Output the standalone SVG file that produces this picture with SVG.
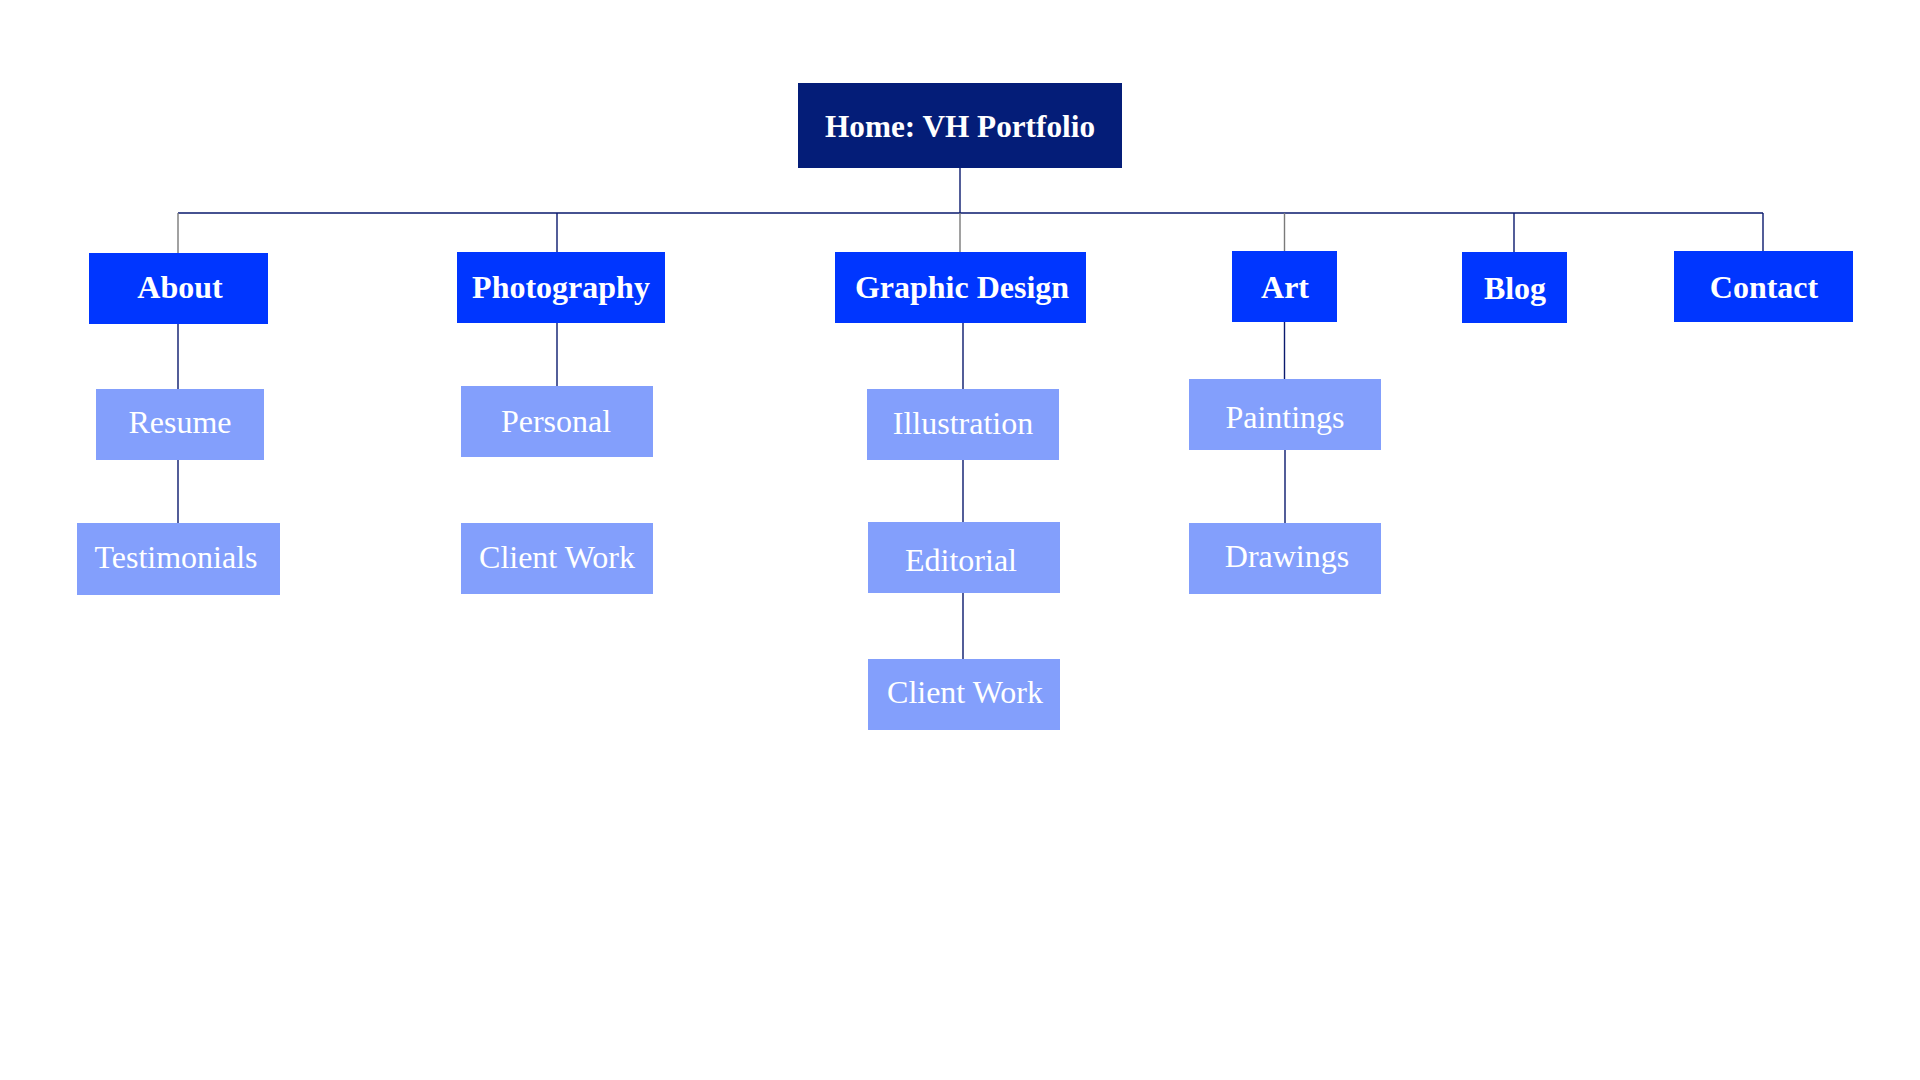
<svg xmlns="http://www.w3.org/2000/svg" width="1920" height="1080" viewBox="0 0 1920 1080">
<style>
.home{fill:#041d78}
.l1{fill:#0036ff}
.l2{fill:#839ffc}
.t{font-family:"Liberation Serif","Times New Roman",serif;fill:#ffffff;text-anchor:middle}
.tb{font-weight:bold;font-size:32px}
.tr{font-size:32px}
.c{stroke:#0a1a6e;stroke-width:1.4;fill:none}
.g{stroke:#7a7a7a;stroke-width:1.4;fill:none}
</style>
<rect width="1920" height="1080" fill="#ffffff"/>
<g id="connectors">
<path class="c" d="M960 168V213M178 213H1763"/>
<path class="g" d="M178 213V253M960 213V252M1284.5 213V251"/>
<path class="c" d="M557 213V252M1514 213V252M1763 213V251"/>
<path class="c" d="M178 324V389M178 460V523"/>
<path class="c" d="M557 323V386"/>
<path class="c" d="M963 323V389M963 460V522M963 593V659"/>
<path class="c" d="M1284.5 322V379M1285 450V523"/>
</g>
<g id="home"><rect class="home" x="798" y="83" width="324" height="85"/><text class="t tb" x="960" y="137" font-size="33" textLength="270" lengthAdjust="spacingAndGlyphs">Home: VH Portfolio</text></g>
<g id="about"><rect class="l1" x="89" y="253" width="179" height="71"/><text class="t tb" x="180" y="298">About</text></g>
<g id="photography"><rect class="l1" x="457" y="252" width="208" height="71"/><text class="t tb" x="561" y="298">Photography</text></g>
<g id="graphic-design"><rect class="l1" x="835" y="252" width="251" height="71"/><text class="t tb" x="962" y="298">Graphic Design</text></g>
<g id="art"><rect class="l1" x="1232" y="251" width="105" height="71"/><text class="t tb" x="1285" y="298">Art</text></g>
<g id="blog"><rect class="l1" x="1462" y="252" width="105" height="71"/><text class="t tb" x="1515" y="299">Blog</text></g>
<g id="contact"><rect class="l1" x="1674" y="251" width="179" height="71"/><text class="t tb" x="1764" y="298">Contact</text></g>
<g id="resume"><rect class="l2" x="96" y="389" width="168" height="71"/><text class="t tr" x="180" y="433">Resume</text></g>
<g id="testimonials"><rect class="l2" x="77" y="523" width="203" height="72"/><text class="t tr" x="176" y="568">Testimonials</text></g>
<g id="personal"><rect class="l2" x="461" y="386" width="192" height="71"/><text class="t tr" x="556" y="432">Personal</text></g>
<g id="photo-client-work"><rect class="l2" x="461" y="523" width="192" height="71"/><text class="t tr" x="557" y="568">Client Work</text></g>
<g id="illustration"><rect class="l2" x="867" y="389" width="192" height="71"/><text class="t tr" x="963" y="434">Illustration</text></g>
<g id="editorial"><rect class="l2" x="868" y="522" width="192" height="71"/><text class="t tr" x="961" y="571">Editorial</text></g>
<g id="gd-client-work"><rect class="l2" x="868" y="659" width="192" height="71"/><text class="t tr" x="965" y="703">Client Work</text></g>
<g id="paintings"><rect class="l2" x="1189" y="379" width="192" height="71"/><text class="t tr" x="1285" y="428">Paintings</text></g>
<g id="drawings"><rect class="l2" x="1189" y="523" width="192" height="71"/><text class="t tr" x="1287" y="567">Drawings</text></g>
</svg>
